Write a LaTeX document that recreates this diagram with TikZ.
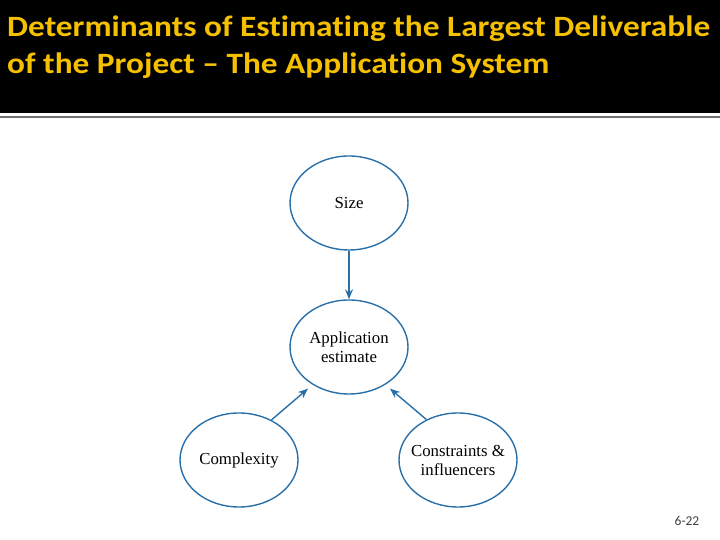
\documentclass[tikz,border=0pt]{standalone}
\usepackage{fontspec}
\setmainfont{Liberation Serif}
\newfontfamily\titlefont[FakeStretch=1.13,Ligatures={NoCommon}]{Carlito}
\newfontfamily\pagefont{Carlito}
\usetikzlibrary{arrows.meta,shapes.geometric}
\definecolor{titleyellow}{HTML}{F5C000}
\definecolor{ellblue}{HTML}{2A70A8}
\definecolor{rulegray}{HTML}{707070}
\newcommand{\zw}[1]{\makebox[0pt]{#1}}
\tikzset{
  bubble/.style={ellipse, draw=ellblue, line width=1.4pt, minimum width=118pt, minimum height=94pt, inner sep=0pt, align=center, font=\fontsize{16.8}{19}\selectfont},
  conn/.style={draw=ellblue, line width=1.4pt, -{Stealth[length=10pt,width=8pt]}},
  titletext/.style={anchor=base west, text=titleyellow, font=\titlefont\bfseries\fontsize{29.5}{31}\selectfont, inner sep=0pt},
}
\begin{document}
\begin{tikzpicture}[x=1pt,y=1pt]
\useasboundingbox (0,0) rectangle (720,540);
\fill[black] (0,427) rectangle (720,540);
\fill[rulegray] (0,422) rectangle (720,424);
\node[titletext] (t1) at (7,503) {Determinants of Estimating the Largest Deliverable};
\node[titletext] (t2) at (7,466) {of the Project – The Application System};
\node[bubble] (size) at (349,337) {\zw{Size}};
\node[bubble] (app) at (349,193) {\zw{Application}\\\zw{estimate}};
\node[bubble] (cx) at (239,80) {\zw{Complexity}};
\node[bubble] (ci) at (458,80) {\zw{Constraints \&}\\\zw{influencers}};
\draw[conn] (size) -- (app);
\draw[conn, shorten >=6pt] (cx.51) -- (app.226);
\draw[conn, shorten >=6pt] (ci.128) -- (app.314);
\node[anchor=base, font=\pagefont\fontsize{13.5}{15}\selectfont, text=black!75] (pg) at (687,14) {6-22};
\end{tikzpicture}
\end{document}
